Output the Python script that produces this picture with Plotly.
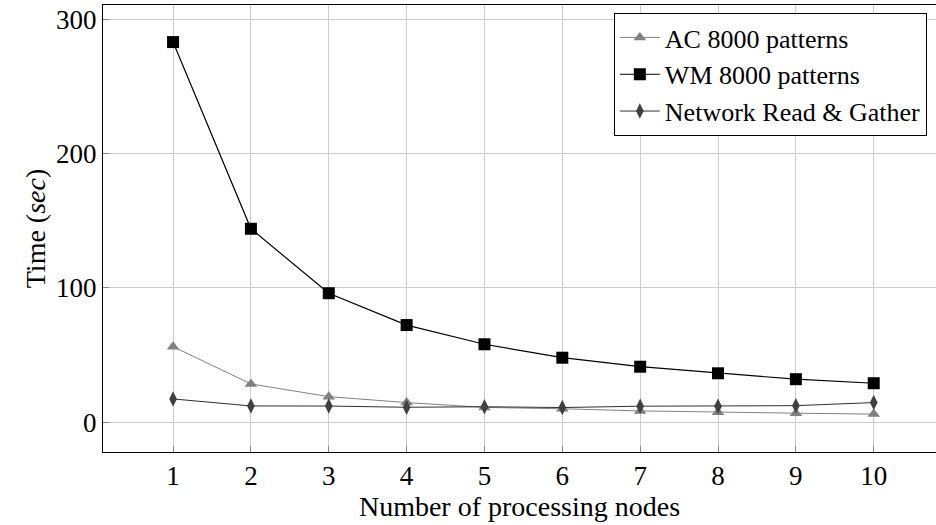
import plotly.graph_objects as go

nodes = [1, 2, 3, 4, 5, 6, 7, 8, 9, 10]
ac_8000 = [56.2, 28.5, 19.0, 14.6, 11.0, 10.0, 8.4, 7.4, 6.7, 6.0]
wm_8000 = [283, 144, 96, 72.3, 58, 48, 41.3, 36.4, 32, 29]
net_rg = [17.3, 12.1, 12.0, 11.1, 11.5, 10.9, 11.9, 11.9, 12.3, 14.6]
y_ticks = [0, 100, 200, 300]

FONT = "Liberation Serif, Times New Roman, serif"
FS_TICK = 27
FS_TITLE = 28
FS_LEG = 26

fig = go.Figure()
fig.add_trace(go.Scatter(
    x=nodes, y=ac_8000, name="AC 8000 patterns", mode="lines+markers",
    line=dict(color="#808080", width=1),
    marker=dict(symbol="triangle-up", size=11, color="#808080")))
fig.add_trace(go.Scatter(
    x=nodes, y=wm_8000, name="WM 8000 patterns", mode="lines+markers",
    line=dict(color="#000000", width=1.2),
    marker=dict(symbol="square", size=12, color="#000000")))
fig.add_trace(go.Scatter(
    x=nodes, y=net_rg, name="Network Read &amp; Gather", mode="lines+markers",
    line=dict(color="#303030", width=1),
    marker=dict(symbol="diamond-tall", size=11, color="#404040")))

fig.update_layout(
    width=936, height=525,
    margin=dict(l=103, r=0, t=5, b=73),
    paper_bgcolor="white", plot_bgcolor="white",
    font=dict(family=FONT, size=FS_TICK, color="black"),
    showlegend=True,
    legend=dict(
        x=0.989, y=0.982, xanchor="right", yanchor="top",
        bgcolor="white", bordercolor="black", borderwidth=1,
        font=dict(family=FONT, size=FS_LEG),
        tracegroupgap=0, itemwidth=40,
    ),
    xaxis=dict(
        range=[0.1, 10.8], tickmode="array", tickvals=nodes,
        ticks="inside", ticklen=6, tickcolor="#888888",
        showgrid=True, gridcolor="#cccccc", gridwidth=1,
        showline=True, linecolor="black", linewidth=1, mirror=True,
        zeroline=False,
        title=dict(text="Number of processing nodes", standoff=2,
                   font=dict(family=FONT, size=FS_TITLE)),
        tickfont=dict(family=FONT, size=FS_TICK),
    ),
    yaxis=dict(
        range=[-22.2, 310.6], tickmode="array", tickvals=y_ticks,
        ticks="inside", ticklen=6, tickcolor="#888888",
        showgrid=True, gridcolor="#cccccc", gridwidth=1,
        showline=True, linecolor="black", linewidth=1, mirror=True,
        zeroline=False,
        title=dict(text="Time (<i>sec</i>)", standoff=2,
                   font=dict(family=FONT, size=FS_TITLE)),
        tickfont=dict(family=FONT, size=FS_TICK),
    ),
)

fig.write_html("out.html", config={"displayModeBar": False},
               post_script="document.body.style.margin='0px';document.body.style.overflow='hidden';")
